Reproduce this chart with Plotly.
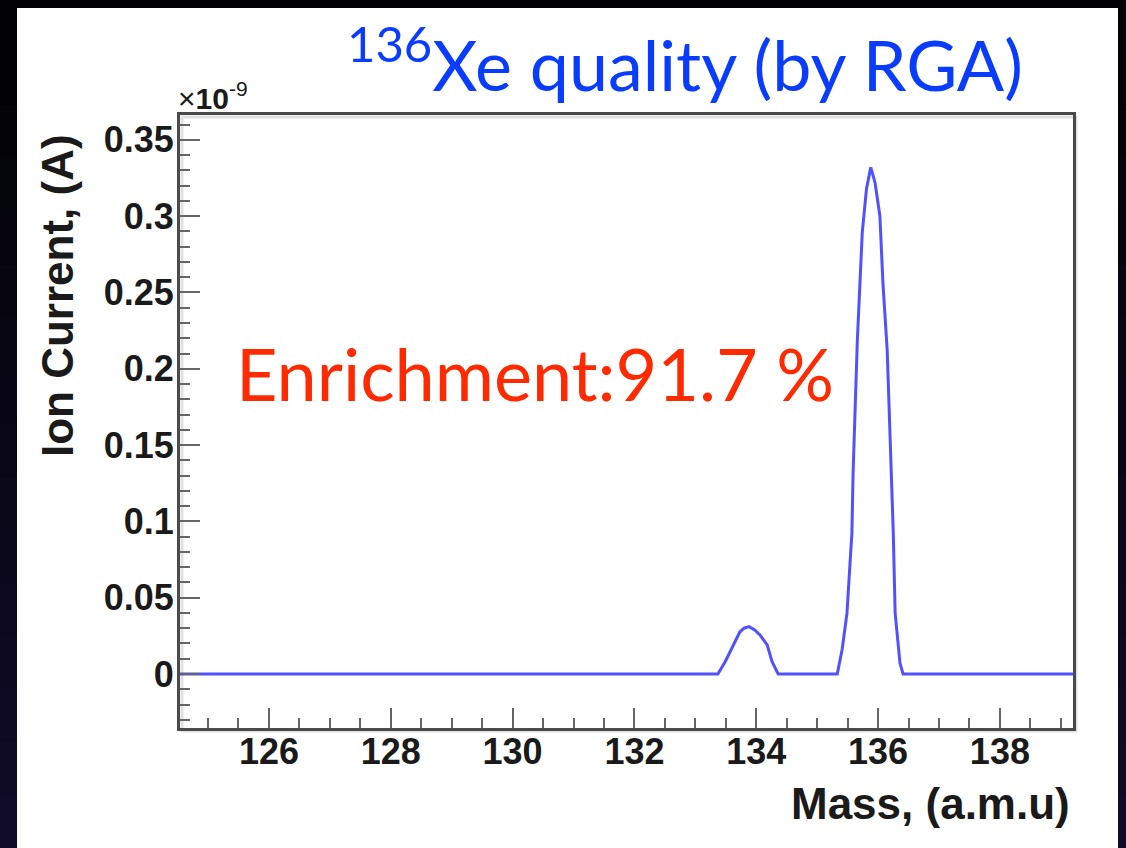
import plotly.graph_objects as go

# Residual gas analyser scan (ion current in units of 1e-9 A versus mass in a.m.u)
mass = [124.54, 133.37, 133.49, 133.62, 133.73, 133.80, 133.88, 133.97, 134.06, 134.18,
        134.26, 134.36, 135.33, 135.41, 135.49, 135.54, 135.57, 135.59, 135.62, 135.66,
        135.74, 135.81, 135.88, 135.95, 136.03, 136.08, 136.15, 136.20, 136.25, 136.28,
        136.36, 136.41, 139.20]
ion_current = [0.0, 0.0, 0.008, 0.018, 0.0275, 0.030, 0.031, 0.029, 0.0256, 0.019,
               0.008, 0.0, 0.0, 0.016, 0.040, 0.073, 0.092, 0.132, 0.175, 0.219,
               0.289, 0.318, 0.332, 0.322, 0.300, 0.256, 0.212, 0.153, 0.092, 0.040,
               0.007, 0.0, 0.0]

y_ticks = [0, 0.05, 0.1, 0.15, 0.2, 0.25, 0.3, 0.35]
y_tick_text = ["0", "0.05", "0.1", "0.15", "0.2", "0.25", "0.3", "0.35"]
x_ticks = [126, 128, 130, 132, 134, 136, 138]
x_tick_text = ["126", "128", "130", "132", "134", "136", "138"]

title_text = "<sup>136</sup>Xe quality (by RGA)"
note_text = "Enrichment:91.7 %"
x_title = "Mass, (a.m.u)"
y_title = "Ion Current, (A)"
y_scale = "×<b>10</b><sup>-9</sup>"

W, H = 1126, 848


def px(x):
    return x / W


def py(y):
    return 1 - y / H


fig = go.Figure()
fig.add_trace(go.Scatter(
    x=mass, y=ion_current, mode="lines",
    line=dict(color="rgba(50,50,255,0.85)", width=3),
    hoverinfo="skip", showlegend=False,
))

shapes = []
# dark slide backdrop with a faint navy glow toward the bottom
steps = 16
for i in range(steps):
    t = i / (steps - 1)
    r, g, b = int(2 + 14 * t), int(2 + 10 * t), int(4 + 36 * t)
    shapes.append(dict(type="rect", xref="paper", yref="paper",
                       x0=0, x1=1, y0=py(H * (i + 1) / steps), y1=py(H * i / steps),
                       fillcolor=f"rgb({r},{g},{b})", line=dict(width=0), layer="below"))
# white slide panel
shapes.append(dict(type="rect", xref="paper", yref="paper",
                   x0=px(17), x1=px(1118), y0=0, y1=py(8),
                   fillcolor="white", line=dict(width=0), layer="below"))
# soft shadow of the frame
shapes.append(dict(type="rect", xref="paper", yref="paper",
                   x0=px(182), x1=px(1076), y0=py(731), y1=py(117),
                   fillcolor="rgba(0,0,0,0)", line=dict(color="rgba(0,0,0,0.12)", width=3),
                   layer="below"))

tick_font = dict(family="Liberation Sans, Arial, sans-serif", size=36, color="#1a1a1a", weight="bold")

fig.update_layout(
    width=W, height=H,
    margin=dict(l=0, r=0, t=0, b=0),
    paper_bgcolor="black",
    plot_bgcolor="rgba(0,0,0,0)",
    shapes=shapes,
    xaxis=dict(
        domain=[px(180), px(1073)], range=[124.54, 139.2],
        tickvals=x_ticks, ticktext=x_tick_text, ticks="inside", ticklen=20,
        tickwidth=2, tickcolor="#666", tickfont=tick_font, ticklabelstandoff=-10,
        minor=dict(dtick=0.5, tick0=124, ticks="inside", ticklen=10, tickwidth=2, tickcolor="#666"),
        showline=True, linecolor="#4a4a4a", linewidth=3, mirror=True,
        showgrid=False, zeroline=False, automargin=False,
    ),
    yaxis=dict(
        domain=[py(728), py(115)], range=[-0.0354, 0.3663],
        tickvals=y_ticks, ticktext=y_tick_text, ticks="inside", ticklen=20,
        tickwidth=2, tickcolor="#666", tickfont=tick_font, ticklabelstandoff=-4,
        minor=dict(dtick=0.01, tick0=0, ticks="inside", ticklen=10, tickwidth=2, tickcolor="#666"),
        showline=True, linecolor="#4a4a4a", linewidth=3, mirror=True,
        showgrid=False, zeroline=False, automargin=False,
    ),
    annotations=[
        dict(text=title_text, xref="paper", yref="paper", x=px(345), y=py(60),
             xanchor="left", yanchor="middle", showarrow=False,
             font=dict(family="Lato, Open Sans, sans-serif", size=70, color="#0a3cff")),
        dict(text=note_text, xref="paper", yref="paper", x=px(234), y=py(373),
             xanchor="left", yanchor="middle", showarrow=False,
             font=dict(family="Lato, Open Sans, sans-serif", size=72, color="#ff2a00")),
        dict(text=x_title, xref="paper", yref="paper", x=px(1072), y=py(803),
             xanchor="right", yanchor="middle", showarrow=False,
             font=dict(family="Liberation Sans, Arial, sans-serif", size=44, color="#1a1a1a", weight="bold")),
        dict(text=y_title, xref="paper", yref="paper", x=px(57), y=py(296),
             xanchor="center", yanchor="middle", showarrow=False, textangle=-90,
             font=dict(family="Liberation Sans, Arial, sans-serif", size=44, color="#1a1a1a", weight="bold")),
        dict(text=y_scale, xref="paper", yref="paper", x=px(176), y=py(96),
             xanchor="left", yanchor="middle", showarrow=False,
             font=dict(family="Liberation Sans, Arial, sans-serif", size=30, color="#1a1a1a")),
    ],
)

fig.write_html("out.html")
